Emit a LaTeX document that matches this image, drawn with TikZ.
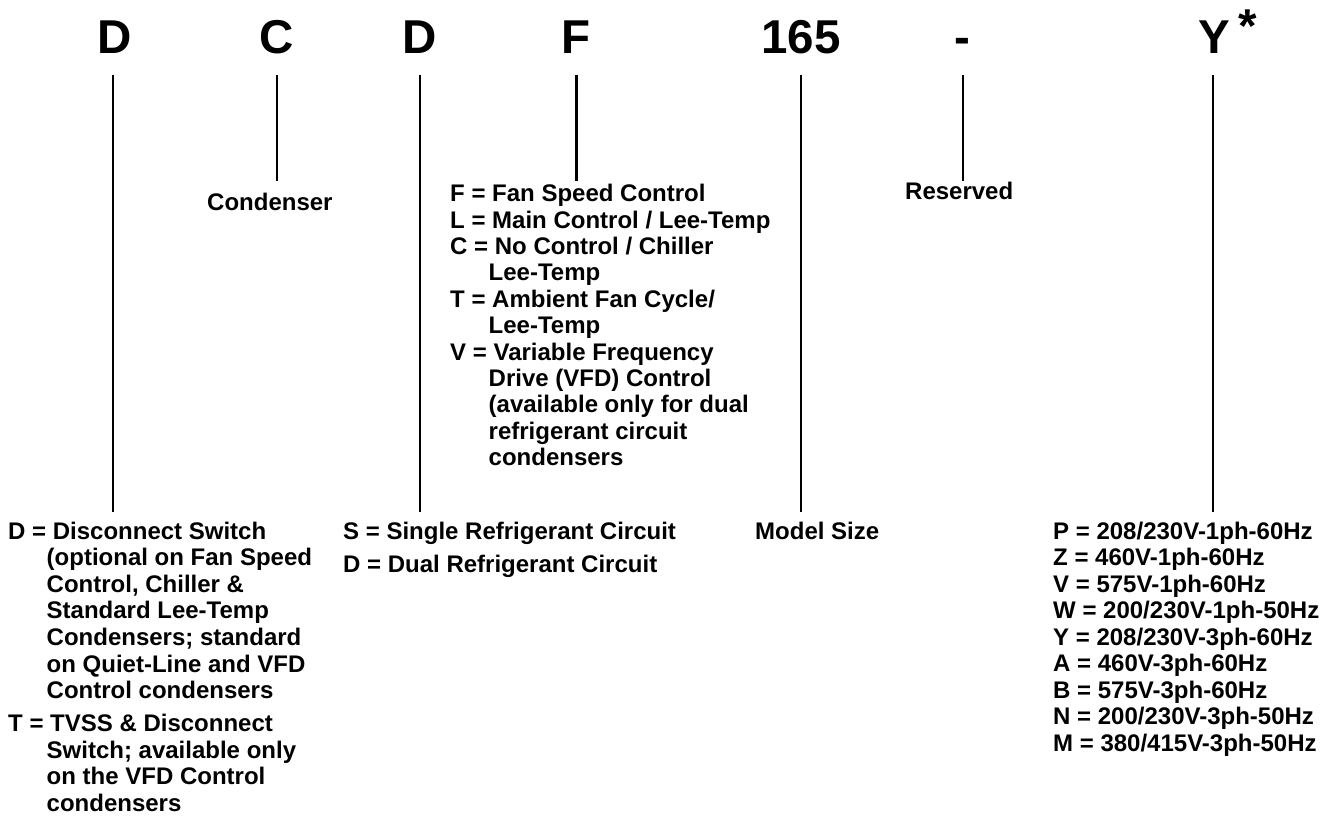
\documentclass[tikz,border=0pt]{standalone}
\usepackage{fontspec}
\setmainfont{Liberation Sans}
\newcommand\tline[1]{\hbox{#1}}
\newcommand\tind[1]{\hbox{\hskip38.5pt #1}}
\tikzset{
  lead/.style={line width=2.8pt},
  big/.style={font=\fontsize{47.5}{50}\selectfont\bfseries, inner sep=0pt, anchor=base},
  desc/.style={font=\fontsize{24}{26.5}\selectfont\bfseries, inner sep=0pt, anchor=base west},
}
\begin{document}
\begin{tikzpicture}[x=1pt,y=-1pt]
\useasboundingbox (0,0) rectangle (1331,818);
% header letters
\node[big] (hD1) at (115,54) {D};
\node[big] (hC) at (277,54) {C};
\node[big] (hD2) at (420,54) {D};
\node[big] (hF) at (576,54) {F};
\node[big] (h165) at (801,54) {165};
\node[big] (hdash) at (962,54) {-};
\node[big] (hY) at (1214,54) {Y};
\node[big] (hstar) at (1248,43) {*};
% line ends
\coordinate (a1) at (113,75);  \coordinate (b1) at (113,512);
\coordinate (a2) at (277,75);  \coordinate (b2) at (277,181);
\coordinate (a3) at (420,75);  \coordinate (b3) at (420,512);
\coordinate (a4) at (576.5,75);\coordinate (b4) at (576.5,181);
\coordinate (a5) at (801,75);  \coordinate (b5) at (801,512);
\coordinate (a6) at (963,75);  \coordinate (b6) at (963,181);
\coordinate (a7) at (1213,75); \coordinate (b7) at (1213,512);
\foreach \i in {1,...,7} {\draw[lead] (a\i) -- (b\i);}
% descriptions
\node[desc] (tCond) at (207,211) {Condenser};
\node[desc] (tRes) at (905,200) {Reserved};
\node[desc] (tF) at (450,201.7) {\vtop{\baselineskip=26.4pt
  \tline{F = Fan Speed Control}
  \tline{L = Main Control / Lee-Temp}
  \tline{C = No Control / Chiller}
  \tind{Lee-Temp}
  \tline{T = Ambient Fan Cycle/}
  \tind{Lee-Temp}
  \tline{V = Variable Frequency}
  \tind{Drive (VFD) Control}
  \tind{(available only for dual}
  \tind{refrigerant circuit}
  \tind{condensers}}};
\node[desc] (tD1) at (8,539) {\vtop{\baselineskip=26.6pt
  \tline{D = Disconnect Switch}
  \tind{(optional on Fan Speed}
  \tind{Control, Chiller \&}
  \tind{Standard Lee-Temp}
  \tind{Condensers; standard}
  \tind{on Quiet-Line and VFD}
  \tind{Control condensers}
  \vskip6.5pt
  \tline{T = TVSS \& Disconnect}
  \tind{Switch; available only}
  \tind{on the VFD Control}
  \tind{condensers}}};
\node[desc] (tD2) at (343,539) {\vtop{\baselineskip=26.6pt
  \tline{S = Single Refrigerant Circuit}
  \vskip7pt
  \tline{D = Dual Refrigerant Circuit}}};
\node[desc] (tSize) at (755,539) {Model Size};
\node[desc] (tY) at (1053,539) {\vtop{\baselineskip=26.5pt
  \tline{P = 208/230V-1ph-60Hz}
  \tline{Z = 460V-1ph-60Hz}
  \tline{V = 575V-1ph-60Hz}
  \tline{W = 200/230V-1ph-50Hz}
  \tline{Y = 208/230V-3ph-60Hz}
  \tline{A = 460V-3ph-60Hz}
  \tline{B = 575V-3ph-60Hz}
  \tline{N = 200/230V-3ph-50Hz}
  \tline{M = 380/415V-3ph-50Hz}}};
\end{tikzpicture}
\end{document}
